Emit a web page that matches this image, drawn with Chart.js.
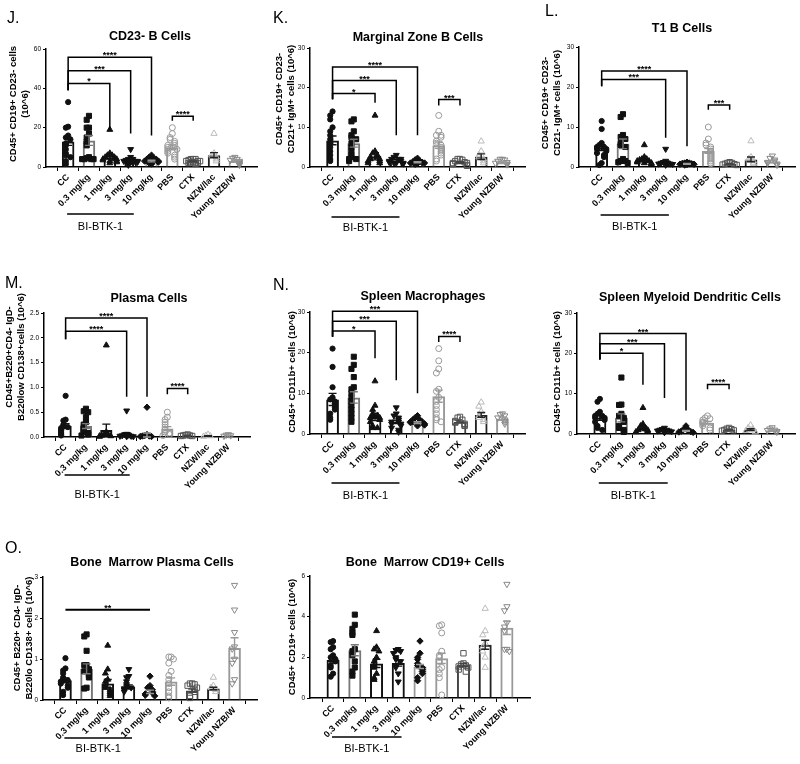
<!DOCTYPE html>
<html>
<head>
<meta charset="utf-8">
<script src="https://cdn.jsdelivr.net/npm/chart.js@4.4.1/dist/chart.umd.min.js"></script>
<style>
  body { margin: 0; background: #fff; width: 800px; height: 764px; position: relative; overflow: hidden; }
  canvas { position: absolute; }
</style>
</head>
<body>
<script>
const groups = ['CC', '0.3 mg/kg', '1 mg/kg', '3 mg/kg', '10 mg/kg', 'PBS', 'CTX', 'NZW/lac', 'Young NZB/W'];

// J. CD23- B cells
const cd23Mean = [13, 13.5, 5, 3.5, 3, 10, 3, 6, 3];
const cd23Sem = [2, 2.5, 1, 0.6, 0.4, 1.2, 0.3, 1.3, 0.5];
const cd23Pts = [
  [33, 20.5, 20, 16, 15, 14, 12, 11, 9, 7, 6, 5, 3, 1.5],
  [26, 24, 20, 20, 17, 15, 13, 11, 5, 4.5, 4, 4, 4, 4],
  [19, 7, 6, 6, 5, 5, 4, 4, 4, 3.5, 3, 3, 2.5, 2],
  [9, 5, 4, 4, 3.5, 3, 3, 3, 2.5, 2.5, 2, 2, 1.5, 1],
  [6, 5, 4.5, 4, 4, 3.5, 3, 3, 2.5, 2.5, 2, 2, 1.5],
  [20, 17, 15, 14, 13, 12, 11, 11, 10, 9, 9, 8, 7, 6, 5, 4],
  [4, 4, 4, 3.5, 3, 3, 3, 2.5, 2.5, 2, 2, 2, 1.5],
  [17, 7, 6, 5, 4, 3],
  [5, 4.5, 4, 3.5, 3, 2.5, 2, 1.5, 1]
];
const cd23Sig = [
  { a: 0, b: 2, top: 42.5, legA: 39, legB: 19.6, txt: '*' },
  { a: 0, b: 3, top: 49, legA: 39, legB: 17, txt: '***' },
  { a: 0, b: 4, top: 55.8, legA: 39, legB: 16, txt: '****' },
  { a: 5, b: 6, top: 25.8, legA: 23.5, legB: 23.5, txt: '****' }
];

// K. Marginal zone B cells
const mzMean = [6.7, 6, 2.7, 1.6, 1.2, 5.5, 1.2, 2.6, 1.2];
const mzSem = [1.1, 1, 0.9, 0.3, 0.15, 0.8, 0.2, 0.7, 0.2];
const mzPts = [
  [14, 13, 12, 10, 9, 8, 7, 6, 5, 4, 3, 2, 1.5],
  [12, 11.5, 9, 8, 7.5, 7, 6, 5, 4, 3, 2.5, 2, 2, 1.5],
  [13, 4, 3.5, 3, 2.5, 2.5, 2, 2, 1.5, 1.5, 1, 1],
  [3, 2.5, 2, 2, 2, 1.5, 1.5, 1.2, 1, 1, 1, 0.8],
  [2.2, 1.8, 1.5, 1.3, 1.2, 1.1, 1, 1, 0.9, 0.8, 0.7],
  [13, 9, 8, 8, 7.5, 6.5, 6, 5.5, 5, 4.5, 4, 3.5, 3, 2, 1.5],
  [2, 2, 1.8, 1.5, 1.2, 1, 1, 0.8, 0.7, 0.5, 0.3],
  [6.5, 4, 3, 2.5, 2, 1.5, 1],
  [2, 2, 1.8, 1.5, 1.2, 1, 0.8, 0.6]
];
const mzSig = [
  { a: 0, b: 2, top: 18.5, legA: 17.1, legB: 16.2, txt: '*' },
  { a: 0, b: 3, top: 21.8, legA: 17.1, legB: 8, txt: '***' },
  { a: 0, b: 4, top: 25.2, legA: 17.1, legB: 8, txt: '****' },
  { a: 5, b: 6, top: 17, legA: 15.5, legB: 15.5, txt: '***' }
];

// L. T1 B cells
const t1Mean = [4.8, 5.8, 1.7, 1.2, 0.8, 4, 0.8, 1.9, 1.4];
const t1Sem = [0.7, 1.2, 0.4, 0.3, 0.1, 0.6, 0.1, 0.6, 0.3];
const t1Pts = [
  [11.5, 9.5, 6, 5.5, 5, 5, 4.5, 4.5, 4, 3.5, 3, 2.5, 1, 0.5],
  [13.2, 12.5, 8, 7.5, 7, 6, 5.5, 5, 2, 1.5, 1.5, 1.2, 1],
  [5.5, 2.5, 2, 2, 1.8, 1.5, 1.5, 1.2, 1, 1, 0.8],
  [4.5, 1.5, 1.2, 1, 1, 0.8, 0.8, 0.7, 0.5],
  [1.2, 1, 1, 0.9, 0.8, 0.7, 0.7, 0.6, 0.5],
  [10, 7, 6, 5.5, 5, 4.5, 4, 3.5, 3, 2.5, 2, 1.5, 1, 0.8],
  [1.2, 1, 1, 0.8, 0.7, 0.6, 0.5],
  [6.5, 2.5, 2, 1.5, 1, 0.8],
  [2.8, 2.2, 1.8, 1.5, 1.2, 1, 0.8, 0.5]
];
const t1Sig = [
  { a: 0, b: 3, top: 21.9, legA: 20.2, legB: 7.3, txt: '***' },
  { a: 0, b: 4, top: 24, legA: 20.2, legB: 5.2, txt: '****' },
  { a: 5, b: 6, top: 15.5, legA: 14.3, legB: 14.3, txt: '***' }
];

// M. Plasma cells
const pcMean = [0.22, 0.22, 0.14, 0.05, 0.04, 0.17, 0.03, 0.02, 0.03];
const pcSem = [0.05, 0.05, 0.12, 0.035, 0.04, 0.04, 0.005, 0.005, 0.005];
const pcPts = [
  [0.83, 0.35, 0.33, 0.25, 0.22, 0.2, 0.18, 0.15, 0.13, 0.1, 0.08, 0.05, 0.03],
  [0.57, 0.52, 0.5, 0.4, 0.3, 0.25, 0.2, 0.15, 0.1, 0.08, 0.05, 0.03],
  [1.85, 0.1, 0.05, 0.04, 0.03, 0.02, 0.02, 0.01],
  [0.53, 0.06, 0.05, 0.04, 0.03, 0.02, 0.02, 0.01, 0.01],
  [0.6, 0.05, 0.03, 0.02, 0.02, 0.01, 0.01],
  [0.5, 0.4, 0.35, 0.3, 0.25, 0.2, 0.15, 0.1, 0.08, 0.05, 0.03],
  [0.05, 0.04, 0.03, 0.03, 0.02, 0.02],
  [0.05, 0.03, 0.02, 0.01],
  [0.05, 0.04, 0.03, 0.02]
];
const pcSig = [
  { a: 0, b: 3, top: 2.13, legA: 1.97, legB: 0.81, txt: '****' },
  { a: 0, b: 4, top: 2.4, legA: 1.97, legB: 0.81, txt: '****' },
  { a: 5, b: 6, top: 0.98, legA: 0.86, legB: 0.86, txt: '****' }
];

// N. Spleen macrophages
const macMean = [8.5, 9, 4.2, 3, 2.8, 9.3, 3, 4.7, 3.8];
const macSem = [1.5, 1.4, 0.9, 0.4, 0.2, 1.5, 0.2, 0.6, 0.4];
const macPts = [
  [21, 16.5, 11.5, 9, 8.5, 8, 7.5, 7, 6.5, 6, 5, 4, 3.5],
  [19, 17, 16, 14, 11.5, 11, 10, 9, 8, 7, 6, 5, 4, 3],
  [13, 7, 6, 5, 4.5, 4.5, 4, 4, 3.5, 3, 2, 1.5, 1.5],
  [6.5, 5, 4.5, 4, 3.5, 3, 3, 2.5, 2.5, 2, 1.5, 1, 0.5],
  [4.5, 4, 3.5, 3.5, 3, 3, 3, 2.8, 2.5, 2.5, 2.2, 2],
  [21, 18, 16, 15, 11, 10.5, 9, 8, 7, 6, 5, 4, 3.5, 3],
  [4.2, 4, 3.5, 3.2, 3, 2.8, 2.5, 2.2, 2],
  [7.8, 6.8, 5.5, 4.5, 4, 3.5, 3],
  [5, 4.8, 4.5, 4, 3.5, 3, 2.5]
];
const macSig = [
  { a: 0, b: 2, top: 25.3, legA: 23.9, legB: 18.6, txt: '*' },
  { a: 0, b: 3, top: 27.7, legA: 23.9, legB: 13.2, txt: '***' },
  { a: 0, b: 4, top: 30.2, legA: 23.9, legB: 10, txt: '***' },
  { a: 5, b: 6, top: 24, legA: 22.6, legB: 22.6, txt: '****' }
];

// Spleen myeloid dendritic cells
const mdcMean = [4.1, 4, 1.5, 0.8, 0.8, 2.8, 1.1, 1.1, 0.9];
const mdcSem = [0.7, 1, 0.5, 0.1, 0.1, 0.3, 0.1, 0.2, 0.1];
const mdcPts = [
  [8.7, 8, 5.5, 5, 4.5, 4.5, 4, 4, 3.5, 3, 2, 1.5, 1],
  [14, 7.3, 7.2, 5, 4.5, 4, 3.5, 3, 2, 1.5, 1, 0.5],
  [6.5, 2.5, 2, 1.5, 1.2, 1, 1, 0.8, 0.5],
  [1.5, 1.2, 1, 1, 0.8, 0.8, 0.6, 0.5, 0.4],
  [2, 1.2, 1, 0.8, 0.7, 0.6, 0.5, 0.4],
  [4.5, 4, 3.8, 3.5, 3, 2.8, 2.5, 2, 1.5, 1],
  [1.5, 1.3, 1.2, 1, 0.9, 0.8],
  [2.2, 1.5, 1.2, 1, 0.8, 0.5],
  [1.6, 1.3, 1, 0.9, 0.7, 0.5]
];
const mdcSig = [
  { a: 0, b: 2, top: 20, legA: 18.5, legB: 12.2, txt: '*' },
  { a: 0, b: 3, top: 22.4, legA: 18.5, legB: 8.9, txt: '***' },
  { a: 0, b: 4, top: 24.9, legA: 18.5, legB: 5.8, txt: '***' },
  { a: 5, b: 6, top: 12.3, legA: 11.1, legB: 11.1, txt: '****' }
];

// O. Bone marrow plasma cells
const bmpcMean = [0.48, 0.76, 0.4, 0.32, 0.2, 0.45, 0.23, 0.28, 1.27];
const bmpcSem = [0.06, 0.12, 0.1, 0.05, 0.04, 0.09, 0.04, 0.03, 0.25];
const bmpcPts = [
  [1.02, 0.77, 0.72, 0.65, 0.55, 0.5, 0.48, 0.45, 0.4, 0.35, 0.3, 0.2, 0.12],
  [1.6, 1.55, 1.2, 0.85, 0.85, 0.75, 0.7, 0.65, 0.6, 0.55, 0.3, 0.28],
  [1.33, 0.75, 0.65, 0.5, 0.45, 0.35, 0.3, 0.25, 0.2, 0.15, 0.1],
  [0.75, 0.58, 0.55, 0.45, 0.38, 0.33, 0.3, 0.28, 0.25, 0.2],
  [0.58, 0.35, 0.3, 0.25, 0.2, 0.18, 0.15, 0.12, 0.1],
  [1.05, 1.05, 1.0, 0.9, 0.7, 0.6, 0.5, 0.4, 0.3, 0.2, 0.1, 0.05],
  [0.4, 0.4, 0.38, 0.35, 0.3, 0.25, 0.2, 0.1, 0.05],
  [0.55, 0.35, 0.3, 0.25, 0.2],
  [2.8, 2.2, 1.65, 1.3, 1.25, 1.0, 0.9, 0.5, 0.4]
];
const bmpcSig = [
  { a: 0, b: 4, top: 2.2, legA: 2.2, legB: 2.2, txt: '**' }
];

// Bone marrow CD19+ cells
const bmcd19Mean = [1.87, 2.35, 1.7, 1.72, 1.55, 1.95, 1.62, 2.62, 3.45];
const bmcd19Sem = [0.15, 0.27, 0.2, 0.15, 0.1, 0.25, 0.08, 0.22, 0.33];
const bmcd19Pts = [
  [2.8, 2.75, 2.5, 2.4, 2.1, 2.0, 1.9, 1.8, 1.6, 1.5, 1.2, 1.05],
  [4.1, 3.6, 3.4, 3.2, 3.1, 2.4, 2.3, 2.1, 1.8, 1.5, 1.3, 1.1],
  [3.3, 2.5, 2.4, 2.3, 2.0, 1.8, 1.6, 1.5, 1.2, 1.0, 0.9],
  [2.4, 2.35, 2.3, 2.2, 2.0, 1.9, 1.8, 1.6, 1.5, 1.2, 0.8],
  [2.8, 2.2, 2.0, 1.9, 1.7, 1.6, 1.5, 1.4, 1.3, 1.2, 1.0, 0.85],
  [3.6, 3.55, 3.2, 2.3, 2.1, 2.0, 1.8, 1.5, 1.4, 1.2, 1.0, 0.15],
  [2.2, 1.7, 1.65, 1.6, 1.55, 1.5, 1.4, 1.3],
  [4.4, 3.3, 3.1, 2.7, 2.5, 2.3, 2.0, 1.5],
  [5.6, 4.5, 4.3, 3.7, 3.5, 3.3, 2.4, 2.4, 2.3]
];

// look of each group
const barColors = ['#111', '#777', '#111', '#111', '#999', '#999', '#444', '#222', '#999'];
const marks = [
  { style: 'circle', r: 2.6, fill: '#111', line: '#111', rot: 0 },
  { style: 'rect', r: 3.6, fill: '#111', line: '#111', rot: 0 },
  { style: 'triangle', r: 3.4, fill: '#111', line: '#111', rot: 0 },
  { style: 'triangle', r: 3.4, fill: '#111', line: '#111', rot: 180 },
  { style: 'rectRot', r: 3.2, fill: '#111', line: '#111', rot: 0 },
  { style: 'circle', r: 3, fill: 'rgba(0,0,0,0)', line: '#999', rot: 0 },
  { style: 'rect', r: 3.8, fill: 'rgba(0,0,0,0)', line: '#555', rot: 0 },
  { style: 'triangle', r: 3.6, fill: 'rgba(0,0,0,0)', line: '#bbb', rot: 0 },
  { style: 'triangle', r: 3.6, fill: 'rgba(0,0,0,0)', line: '#888', rot: 180 }
];

const panels = [
  { box: { x: 0, y: 0, w: 265, h: 250 }, area: { l: 46, t: 49, r: 257, b: 167 },
    mean: cd23Mean, sem: cd23Sem, pts: cd23Pts, sig: cd23Sig, ymax: 60, yticks: [0, 20, 40, 60], dec: 0,
    title: { x: 150, y: 37, text: 'CD23- B Cells' }, letter: { x: 7, y: 19, text: 'J.' },
    ytitle: { x: 19, y: 104, lines: ['CD45+ CD19+ CD23- cells', '(10^6)'] }, bi: { line: 47, label: 60 } },
  { box: { x: 265, y: 0, w: 265, h: 250 }, area: { l: 310, t: 48, r: 526, b: 167 },
    mean: mzMean, sem: mzSem, pts: mzPts, sig: mzSig, ymax: 30, yticks: [0, 10, 20, 30], dec: 0,
    title: { x: 418, y: 38, text: 'Marginal Zone B Cells' }, letter: { x: 273, y: 19, text: 'K.' },
    ytitle: { x: 285, y: 99, lines: ['CD45+ CD19+ CD23-', 'CD21+ IgM+ cells (10^6)'] }, bi: { line: 50, label: 61 } },
  { box: { x: 530, y: 0, w: 270, h: 250 }, area: { l: 579, t: 47, r: 795, b: 167 },
    mean: t1Mean, sem: t1Sem, pts: t1Pts, sig: t1Sig, ymax: 30, yticks: [0, 10, 20, 30], dec: 0,
    title: { x: 682, y: 29, text: 'T1 B Cells' }, letter: { x: 545, y: 12, text: 'L.' },
    ytitle: { x: 551, y: 103, lines: ['CD45+ CD19+ CD23-', 'CD21- IgM+ cells (10^6)'] }, bi: { line: 48, label: 60 } },
  { box: { x: 0, y: 250, w: 265, h: 250 }, area: { l: 44, t: 313, r: 250, b: 437 },
    mean: pcMean, sem: pcSem, pts: pcPts, sig: pcSig, ymax: 2.5, yticks: [0, 0.5, 1, 1.5, 2, 2.5], dec: 1,
    title: { x: 149, y: 299, text: 'Plasma Cells' }, letter: { x: 5, y: 284, text: 'M.' },
    ytitle: { x: 15, y: 357, lines: ['CD45+B220+CD4- IgD-', 'B220low CD138+cells (10^6)'] }, bi: { line: 38, label: 58 } },
  { box: { x: 265, y: 250, w: 265, h: 250 }, area: { l: 310, t: 312, r: 534, b: 434 },
    mean: macMean, sem: macSem, pts: macPts, sig: macSig, ymax: 30, yticks: [0, 10, 20, 30], dec: 0,
    title: { x: 423, y: 297, text: 'Spleen Macrophages' }, letter: { x: 273, y: 286, text: 'N.' },
    ytitle: { x: 292, y: 372, lines: ['CD45+ CD11b+ cells (10^6)'] }, bi: { line: 49, label: 62 } },
  { box: { x: 530, y: 250, w: 270, h: 250 }, area: { l: 577, t: 313, r: 799, b: 434 },
    mean: mdcMean, sem: mdcSem, pts: mdcPts, sig: mdcSig, ymax: 30, yticks: [0, 10, 20, 30], dec: 0,
    title: { x: 690, y: 298, text: 'Spleen Myeloid Dendritic Cells' }, letter: null,
    ytitle: { x: 557, y: 372, lines: ['CD45+ CD11b+ cells (10^6)'] }, bi: { line: 49, label: 62 } },
  { box: { x: 0, y: 500, w: 265, h: 264 }, area: { l: 43, t: 577, r: 257, b: 700 },
    mean: bmpcMean, sem: bmpcSem, pts: bmpcPts, sig: bmpcSig, ymax: 3, yticks: [0, 1, 2, 3], dec: 0,
    title: { x: 152, y: 563, text: 'Bone  Marrow Plasma Cells' }, letter: { x: 5, y: 549, text: 'O.' },
    ytitle: { x: 23, y: 638, lines: ['CD45+ B220+ CD4- IgD-', 'B220lo CD138+ cells (10^6)'] }, bi: { line: 38, label: 49 } },
  { box: { x: 265, y: 500, w: 270, h: 264 }, area: { l: 310, t: 576, r: 532, b: 698 },
    mean: bmcd19Mean, sem: bmcd19Sem, pts: bmcd19Pts, sig: [], ymax: 6, yticks: [0, 2, 4, 6], dec: 0,
    title: { x: 425, y: 563, text: 'Bone  Marrow CD19+ Cells' }, letter: null,
    ytitle: { x: 292, y: 637, lines: ['CD45+ CD19+ cells (10^6)'] }, bi: { line: 39, label: 51 } }
];

const FONT = "'Liberation Sans', Arial, sans-serif";
Chart.defaults.font.family = FONT;
Chart.defaults.color = '#000';

// spread overlapping points sideways (like a column scatter)
function swarm(vals, band) {
  const placed = [];
  const slots = [0, -1, 1, -2, 2, -3, 3];
  return vals.map(v => {
    const k = placed.filter(p => Math.abs(p - v) < band).length;
    placed.push(v);
    return slots[k % slots.length] * 0.11;
  });
}

function deco(p) {
  const ox = p.box.x, oy = p.box.y;
  return {
    id: 'deco',
    afterDatasetsDraw(chart) {
      const ctx = chart.ctx, xs = chart.scales.x, ys = chart.scales.y;
      ctx.save();
      ctx.lineWidth = 1.4;
      p.mean.forEach((m, i) => {
        const x = xs.getPixelForValue(i);
        const y1 = ys.getPixelForValue(m + p.sem[i]);
        const y0 = ys.getPixelForValue(Math.max(0, m - p.sem[i]));
        ctx.strokeStyle = barColors[i];
        ctx.beginPath();
        ctx.moveTo(x, y0); ctx.lineTo(x, y1);
        ctx.moveTo(x - 4, y1); ctx.lineTo(x + 4, y1);
        ctx.moveTo(x - 4, y0); ctx.lineTo(x + 4, y0);
        ctx.stroke();
      });
      ctx.restore();
    },
    afterDraw(chart) {
      const ctx = chart.ctx, xs = chart.scales.x, ys = chart.scales.y;
      ctx.save();
      // significance brackets
      ctx.strokeStyle = '#000';
      ctx.fillStyle = '#000';
      p.sig.forEach(s => {
        const xa = xs.getPixelForValue(s.a), xb = xs.getPixelForValue(s.b);
        const yt = ys.getPixelForValue(s.top);
        ctx.lineWidth = s.legA === s.top ? 2 : 1.5;
        ctx.beginPath();
        ctx.moveTo(xa, ys.getPixelForValue(s.legA));
        ctx.lineTo(xa, yt);
        ctx.lineTo(xb, yt);
        ctx.lineTo(xb, ys.getPixelForValue(s.legB));
        ctx.stroke();
        ctx.font = 'bold 9px ' + FONT;
        ctx.textAlign = 'center';
        ctx.textBaseline = 'alphabetic';
        ctx.fillText(s.txt, (xa + xb) / 2, yt + 1);
      });
      // treatment group underline
      const bx0 = xs.getPixelForValue(-0.05), bx1 = xs.getPixelForValue(3.15);
      const by = chart.chartArea.bottom + p.bi.line;
      ctx.lineWidth = 1.5;
      ctx.beginPath();
      ctx.moveTo(bx0, by); ctx.lineTo(bx1, by);
      ctx.stroke();
      ctx.font = '11px ' + FONT;
      ctx.textAlign = 'center';
      ctx.textBaseline = 'middle';
      ctx.fillText('BI-BTK-1', (bx0 + bx1) / 2, chart.chartArea.bottom + p.bi.label);
      // title
      ctx.font = 'bold 12.5px ' + FONT;
      ctx.fillText(p.title.text, p.title.x - ox, p.title.y - oy);
      // panel letter
      if (p.letter) {
        ctx.font = '16px ' + FONT;
        ctx.textAlign = 'left';
        ctx.fillText(p.letter.text, p.letter.x - ox, p.letter.y - oy);
      }
      // y axis title
      ctx.translate(p.ytitle.x - ox, p.ytitle.y - oy);
      ctx.rotate(-Math.PI / 2);
      ctx.font = 'bold 9.5px ' + FONT;
      ctx.textAlign = 'center';
      const n = p.ytitle.lines.length;
      p.ytitle.lines.forEach((t, k) => ctx.fillText(t, 0, (k - (n - 1) / 2) * 12));
      ctx.restore();
    }
  };
}

panels.forEach(p => {
  const c = document.createElement('canvas');
  c.width = p.box.w; c.height = p.box.h;
  c.style.left = p.box.x + 'px'; c.style.top = p.box.y + 'px';
  c.style.width = p.box.w + 'px'; c.style.height = p.box.h + 'px';
  document.body.appendChild(c);

  const datasets = [{
    type: 'bar',
    order: 2,
    data: p.mean.map((m, i) => ({ x: i, y: m })),
    backgroundColor: 'rgba(255,255,255,0)',
    borderColor: barColors,
    borderWidth: 2,
    borderSkipped: 'start',
    barPercentage: 0.6,
    categoryPercentage: 1
  }];
  p.pts.forEach((vals, i) => {
    const off = swarm(vals, p.ymax * 0.035);
    datasets.push({
      type: 'line',
      order: 1,
      showLine: false,
      clip: false,
      data: vals.map((v, k) => ({ x: i + off[k], y: v })),
      pointStyle: marks[i].style,
      pointRadius: marks[i].r,
      pointRotation: marks[i].rot,
      pointBackgroundColor: marks[i].fill,
      pointBorderColor: marks[i].line,
      pointBorderWidth: 1
    });
  });

  new Chart(c, {
    type: 'bar',
    data: { datasets },
    plugins: [deco(p)],
    options: {
      responsive: false,
      animation: false,
      layout: { padding: { left: 0, top: p.area.t - p.box.y, right: p.box.x + p.box.w - p.area.r, bottom: 0 } },
      plugins: { legend: { display: false }, tooltip: { enabled: false }, title: { display: false } },
      scales: {
        x: {
          type: 'linear', min: -0.5, max: 8.5,
          afterBuildTicks: s => { s.ticks = groups.map((g, i) => ({ value: i })); },
          afterFit: s => { s.height = p.box.y + p.box.h - p.area.b; s.paddingLeft = 0; s.paddingRight = 0; },
          ticks: { callback: v => groups[v], minRotation: 45, maxRotation: 45, autoSkip: false,
                   font: { size: 9, weight: 'bold' }, color: '#000', padding: 1 },
          grid: { drawOnChartArea: false, color: '#000', tickLength: 4 },
          border: { color: '#000', width: 1.5 }
        },
        y: {
          min: 0, max: p.ymax,
          afterBuildTicks: s => { s.ticks = p.yticks.map(v => ({ value: v })); },
          afterFit: s => { s.width = p.area.l - p.box.x; s.paddingTop = 0; s.paddingBottom = 0; },
          ticks: { callback: v => v.toFixed(p.dec), font: { size: 6.5 }, color: '#000', padding: 2 },
          grid: { drawOnChartArea: false, color: '#000', tickLength: 3 },
          border: { color: '#000', width: 1.5 }
        }
      }
    }
  });
});
</script>
</body>
</html>
